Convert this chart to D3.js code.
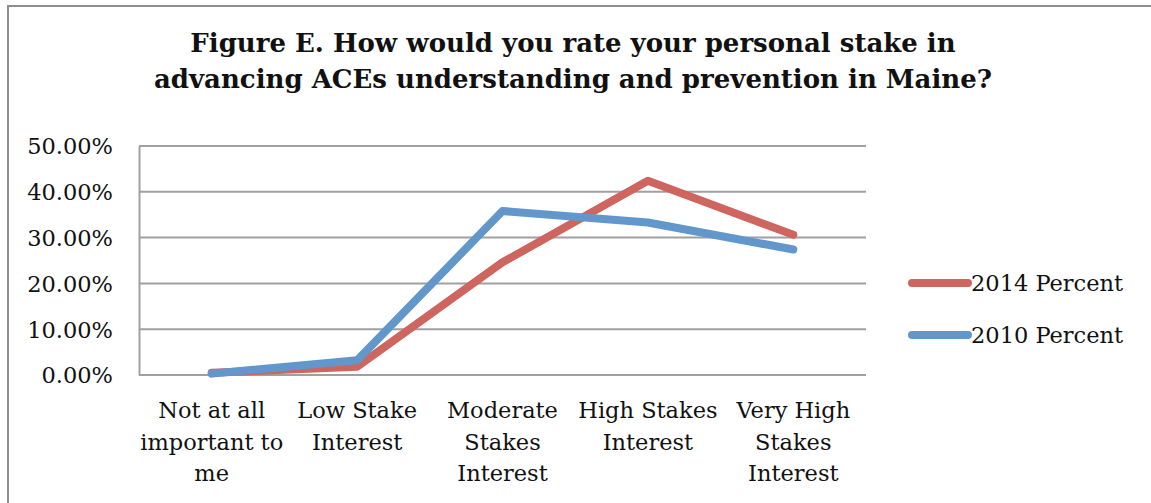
<!DOCTYPE html>
<html>
<head>
<meta charset="utf-8">
<script src="https://cdn.jsdelivr.net/npm/d3@7"></script>
<style>
  html, body { margin: 0; padding: 0; background: #fff; }
  svg { display: block; }
  text { font-family: "DejaVu Serif", "Liberation Serif", serif; fill: #111; }
</style>
</head>
<body>
<svg id="chart" width="1151" height="503"></svg>
<script>
// Survey response categories (x axis), each label split into lines
const categories = [
  ["Not at all", "important to", "me"],
  ["Low Stake", "Interest"],
  ["Moderate", "Stakes", "Interest"],
  ["High Stakes", "Interest"],
  ["Very High", "Stakes", "Interest"]
];
// Share of respondents per category (percent)
const pct2014 = [0.5, 1.8, 24.6, 42.4, 30.6];
const pct2010 = [0.3, 3.2, 35.8, 33.3, 27.4];
const seriesNames = ["2014 Percent", "2010 Percent"];
const seriesColors = ["#CE655E", "#6197CB"];
const yTicks = [0, 10, 20, 30, 40, 50];
const titleLines = [
  "Figure E. How would you rate your personal stake in",
  "advancing ACEs understanding and prevention in Maine?"
];

const svg = d3.select("#chart");
const plot = { left: 139, right: 866, top: 146, bottom: 375 };
const labelSize = 22.5;

// Outer chart frame
svg.append("path")
  .attr("d", "M8,503 L8,6 L1151,6")
  .attr("fill", "none")
  .attr("stroke", "#8e8e8e")
  .attr("stroke-width", 2);

// Title
svg.append("g").selectAll("text")
  .data(titleLines)
  .join("text")
  .attr("x", 573)
  .attr("y", (d, i) => 52 + i * 36)
  .attr("text-anchor", "middle")
  .attr("font-size", 26)
  .attr("font-weight", "bold")
  .text(d => d);

const idx = categories.map((d, i) => i);
const x = d3.scaleBand().domain(idx).range([plot.left, plot.right]);
const y = d3.scaleLinear().domain([0, 50]).range([plot.bottom, plot.top]);

// Horizontal gridlines
svg.append("g").selectAll("line")
  .data(yTicks)
  .join("line")
  .attr("x1", plot.left).attr("x2", plot.right)
  .attr("y1", d => y(d)).attr("y2", d => y(d))
  .attr("stroke", "#a0a0a0")
  .attr("stroke-width", 2);

// Y axis
const yAxis = svg.append("g")
  .attr("transform", `translate(${plot.left},0)`)
  .call(d3.axisLeft(y).tickValues(yTicks).tickSize(0).tickPadding(26)
    .tickFormat(d => d.toFixed(2) + "%"));
yAxis.select(".domain").attr("stroke", "#a0a0a0").attr("stroke-width", 2);
yAxis.selectAll("text")
  .attr("font-size", labelSize)
  .attr("font-family", "DejaVu Serif")
  .attr("fill", "#111")
  .attr("dy", "0.35em");

// X axis labels (multi-line)
const xAxis = svg.append("g")
  .attr("transform", `translate(0,${plot.bottom})`)
  .call(d3.axisBottom(x).tickSize(0).tickFormat(""));
xAxis.select(".domain").remove();
xAxis.selectAll(".tick").each(function(d) {
  const t = d3.select(this).append("text")
    .attr("text-anchor", "middle")
    .attr("font-size", labelSize)
    .attr("font-family", "DejaVu Serif")
    .attr("fill", "#111")
    .attr("y", 43);
  categories[d].forEach((line, i) => {
    t.append("tspan").attr("x", 0).attr("dy", i === 0 ? 0 : 31.5).text(line);
  });
});

// Series lines
const line = d3.line()
  .x((d, i) => x(i) + x.bandwidth() / 2)
  .y(d => y(d));

[pct2014, pct2010].forEach((vals, s) => {
  svg.append("path")
    .datum(vals)
    .attr("d", line)
    .attr("fill", "none")
    .attr("stroke", seriesColors[s])
    .attr("stroke-width", 8)
    .attr("stroke-linecap", "round")
    .attr("stroke-linejoin", "round");
});

// Legend
const legend = svg.append("g").selectAll("g")
  .data(seriesNames)
  .join("g")
  .attr("transform", (d, i) => `translate(910,${283 + i * 52})`);
legend.append("line")
  .attr("x1", 2).attr("x2", 58)
  .attr("stroke", (d, i) => seriesColors[i])
  .attr("stroke-width", 8)
  .attr("stroke-linecap", "round");
legend.append("text")
  .attr("x", 61)
  .attr("dy", "0.35em")
  .attr("font-size", labelSize)
  .text(d => d);
</script>
</body>
</html>
